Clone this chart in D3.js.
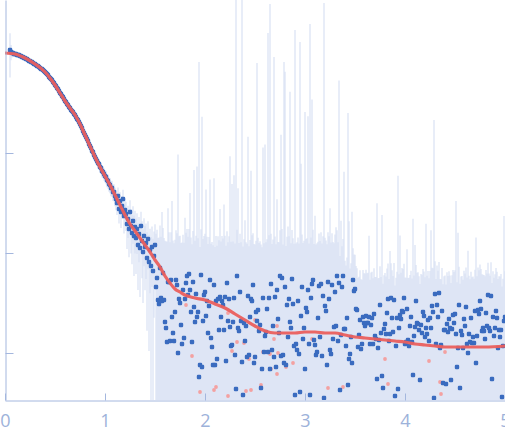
<!DOCTYPE html>
<html><head><meta charset="utf-8">
<script src="https://cdn.jsdelivr.net/npm/d3@7"></script>
<style>html,body{margin:0;padding:0;background:#fff;}svg{display:block;}</style>
</head><body>
<svg id="c" width="505" height="438"></svg>
<script>
// scattering vector q (nm^-1)
const q = [
0.05,0.06,0.07,0.08,0.09,0.10,
0.11,0.12,0.13,0.14,0.15,0.16,0.17,0.18,0.19,0.20,
0.21,0.22,0.23,0.24,0.25,0.26,0.27,0.28,0.29,0.30,
0.31,0.32,0.33,0.34,0.35,0.36,0.37,0.38,0.39,0.40,
0.41,0.42,0.43,0.44,0.45,0.46,0.47,0.48,0.49,0.50,
0.51,0.52,0.53,0.54,0.55,0.56,0.57,0.58,0.59,0.60,
0.61,0.62,0.63,0.64,0.65,0.66,0.67,0.68,0.69,0.70,
0.71,0.72,0.73,0.74,0.75,0.76,0.77,0.78,0.79,0.80,
0.81,0.82,0.83,0.84,0.85,0.86,0.87,0.88,0.89,0.90,
0.91,0.92,0.93,0.94,0.95,0.96,0.97,0.98,0.99,1.00,
1.01,1.02,1.03,1.04,1.05,1.06,1.07,1.08,1.09,1.10,
1.11,1.12,1.13,1.14,1.15,1.16,1.17,1.18,1.19,1.20,
1.21,1.22,1.23,1.24,1.25,1.26,1.27,1.28,1.29,1.30,
1.31,1.32,1.33,1.34,1.35,1.36,1.37,1.38,1.39,1.40,
1.41,1.42,1.43,1.44,1.45,1.46,1.47,1.48,1.49,1.50,
1.51,1.52,1.53,1.54,1.55,1.56,1.57,1.58,1.59,1.60,
1.61,1.62,1.63,1.64,1.65,1.66,1.67,1.68,1.69,1.70,
1.71,1.72,1.73,1.74,1.75,1.76,1.77,1.78,1.79,1.80,
1.81,1.82,1.83,1.84,1.85,1.86,1.87,1.88,1.89,1.90,
1.91,1.92,1.93,1.94,1.95,1.96,1.97,1.98,1.99,2.00,
2.01,2.02,2.03,2.04,2.05,2.06,2.07,2.08,2.09,2.10,
2.11,2.12,2.13,2.14,2.15,2.16,2.17,2.18,2.19,2.20,
2.21,2.22,2.23,2.24,2.25,2.26,2.27,2.28,2.29,2.30,
2.31,2.32,2.33,2.34,2.35,2.36,2.37,2.38,2.39,2.40,
2.41,2.42,2.43,2.44,2.45,2.46,2.47,2.48,2.49,2.50,
2.51,2.52,2.53,2.54,2.55,2.56,2.57,2.58,2.59,2.60,
2.61,2.62,2.63,2.64,2.65,2.66,2.67,2.68,2.69,2.70,
2.71,2.72,2.73,2.74,2.75,2.76,2.77,2.78,2.79,2.80,
2.81,2.82,2.83,2.84,2.85,2.86,2.87,2.88,2.89,2.90,
2.91,2.92,2.93,2.94,2.95,2.96,2.97,2.98,2.99,3.00,
3.01,3.02,3.03,3.04,3.05,3.06,3.07,3.08,3.09,3.10,
3.11,3.12,3.13,3.14,3.15,3.16,3.17,3.18,3.19,3.20,
3.21,3.22,3.23,3.24,3.25,3.26,3.27,3.28,3.29,3.30,
3.31,3.32,3.33,3.34,3.35,3.36,3.37,3.38,3.39,3.40,
3.41,3.42,3.43,3.44,3.45,3.46,3.47,3.48,3.49,3.50,
3.51,3.52,3.53,3.54,3.55,3.56,3.57,3.58,3.59,3.60,
3.61,3.62,3.63,3.64,3.65,3.66,3.67,3.68,3.69,3.70,
3.71,3.72,3.73,3.74,3.75,3.76,3.77,3.78,3.79,3.80,
3.81,3.82,3.83,3.84,3.85,3.86,3.87,3.88,3.89,3.90,
3.91,3.92,3.93,3.94,3.95,3.96,3.97,3.98,3.99,4.00,
4.01,4.02,4.03,4.04,4.05,4.06,4.07,4.08,4.09,4.10,
4.11,4.12,4.13,4.14,4.15,4.16,4.17,4.18,4.19,4.20,
4.21,4.22,4.23,4.24,4.25,4.26,4.27,4.28,4.29,4.30,
4.31,4.32,4.33,4.34,4.35,4.36,4.37,4.38,4.39,4.40,
4.41,4.42,4.43,4.44,4.45,4.46,4.47,4.48,4.49,4.50,
4.51,4.52,4.53,4.54,4.55,4.56,4.57,4.58,4.59,4.60,
4.61,4.62,4.63,4.64,4.65,4.66,4.67,4.68,4.69,4.70,
4.71,4.72,4.73,4.74,4.75,4.76,4.77,4.78,4.79,4.80,
4.81,4.82,4.83,4.84,4.85,4.86,4.87,4.88,4.89,4.90,
4.91,4.92,4.93,4.94,4.95,4.96,4.97,4.98,4.99,5.00];

// log10 of measured intensity
const logI = [
0.03,0.01,0.00,0.00,-0.01,-0.01,
-0.01,-0.02,-0.02,-0.02,-0.03,-0.03,-0.04,-0.04,-0.05,-0.05,
-0.06,-0.06,-0.07,-0.08,-0.08,-0.09,-0.09,-0.10,-0.11,-0.11,
-0.12,-0.13,-0.13,-0.14,-0.15,-0.16,-0.16,-0.17,-0.18,-0.19,
-0.20,-0.21,-0.22,-0.24,-0.25,-0.26,-0.27,-0.29,-0.30,-0.32,
-0.33,-0.35,-0.36,-0.38,-0.40,-0.41,-0.43,-0.44,-0.46,-0.48,
-0.49,-0.51,-0.52,-0.54,-0.55,-0.57,-0.58,-0.59,-0.61,-0.62,
-0.64,-0.66,-0.67,-0.69,-0.71,-0.73,-0.75,-0.78,-0.80,-0.82,
-0.84,-0.86,-0.88,-0.91,-0.93,-0.95,-0.98,-0.99,-1.02,-1.04,
-1.06,-1.08,-1.10,-1.11,-1.14,-1.15,-1.18,-1.19,-1.21,-1.23,
-1.24,-1.27,-1.28,-1.31,-1.32,-1.35,-1.35,-1.39,-1.39,-1.43,
-1.46,-1.50,-1.43,-1.56,-1.48,-1.59,-1.53,-1.46,-1.63,-1.57,
-1.61,-1.71,-1.66,-1.76,-1.59,-1.73,-1.80,-1.68,-1.83,-1.74,
-1.85,-1.76,-1.92,-1.81,-1.95,-1.73,-1.88,-1.99,-1.83,-1.94,
-1.90,-2.05,-1.86,-2.09,-1.97,-2.13,-1.94,-2.18,-2.03,-1.92,
-2.34,-2.25,-2.47,-2.51,-2.15,-2.45,-2.48,-2.20,-2.47,-2.69,
-2.75,-2.89,-2.29,-2.29,-2.88,-2.27,-2.64,-2.80,-2.88,-2.59,
-2.27,-2.32,-3.00,-2.46,-2.50,-2.72,-2.91,-2.37,-2.85,-2.46,
-2.30,-2.23,-2.42,-2.21,-2.37,-2.59,-2.89,-2.29,-2.54,-2.69,
-2.41,-2.64,-2.59,-3.24,-3.12,-2.22,-3.14,-2.68,-2.42,-2.39,
-2.63,-2.48,-2.80,-2.53,-2.27,-2.85,-2.94,-3.12,-2.32,-3.12,
-2.48,-3.06,-2.46,-2.77,-2.44,-2.64,-2.48,-2.52,-2.77,-2.44,
-3.08,-2.30,-2.68,-2.46,-2.74,-2.93,-2.92,-2.69,-2.45,-3.02,
-3.36,-2.23,-2.75,-2.78,-2.39,-2.68,-3.09,-3.42,-2.70,-2.88,
-2.73,-3.04,-2.43,-3.02,-2.64,-2.46,-2.48,-2.32,-3.10,-3.04,
-2.59,-2.68,-2.57,-2.78,-2.72,-3.35,-3.16,-2.45,-2.99,-2.83,
-2.79,-2.56,-2.99,-2.45,-3.16,-2.31,-2.97,-2.73,-3.04,-2.44,
-3.14,-2.37,-2.66,-2.80,-2.23,-3.03,-2.25,-3.02,-3.10,-2.34,
-3.12,-2.52,-2.84,-2.46,-2.69,-2.75,-2.26,-2.51,-2.93,-3.42,
-2.91,-2.97,-2.48,-3.01,-3.39,-2.63,-2.34,-2.86,-2.75,-3.16,
-2.55,-2.59,-2.37,-2.91,-3.42,-2.45,-2.31,-2.27,-2.87,-2.92,
-3.02,-2.99,-2.65,-2.33,-2.84,-2.31,-3.03,-2.43,-3.45,-2.53,
-2.58,-3.12,-2.29,-2.46,-2.97,-3.01,-2.32,-2.86,-2.74,-2.39,
-2.73,-2.23,-2.88,-2.30,-3.37,-2.82,-2.34,-2.23,-2.76,-2.76,
-2.93,-2.65,-3.32,-3.06,-3.01,-2.84,-3.10,-2.27,-2.38,-2.36,
-2.56,-2.57,-2.94,-2.82,-2.67,-2.96,-2.91,-2.64,-2.70,-2.73,
-2.63,-2.70,-2.70,-2.64,-2.91,-2.72,-2.65,-2.91,-2.61,-2.83,
-2.86,-3.26,-2.95,-2.87,-2.52,-2.80,-3.23,-3.35,-2.76,-2.71,
-2.81,-2.60,-2.46,-2.88,-2.81,-2.45,-2.65,-2.79,-2.47,-3.43,
-2.93,-2.65,-3.36,-2.75,-2.62,-2.66,-2.58,-2.59,-2.45,-2.91,
-2.89,-2.56,-2.87,-2.93,-2.73,-2.64,-2.89,-3.22,-2.83,-2.74,
-2.48,-2.70,-2.71,-2.77,-3.27,-2.72,-2.80,-2.59,-2.63,-2.84,
-2.75,-2.81,-2.67,-2.88,-2.65,-2.75,-2.53,-2.59,-3.45,-2.41,
-2.91,-2.52,-2.64,-2.40,-2.95,-2.92,-2.58,-3.30,-2.77,-2.77,
-3.31,-2.71,-2.79,-2.66,-2.75,-3.27,-2.76,-2.62,-2.70,-2.61,
-2.81,-3.14,-2.95,-2.52,-3.35,-2.78,-2.82,-2.95,-2.66,-2.73,
-2.54,-2.91,-3.00,-2.81,-2.89,-2.65,-2.90,-2.84,-2.90,-2.58,
-3.10,-2.83,-2.57,-2.61,-2.48,-2.56,-2.78,-2.75,-2.78,-2.86,
-2.60,-2.73,-2.42,-2.75,-2.78,-2.43,-3.26,-2.64,-2.83,-2.75,
-2.58,-2.65,-2.95,-2.77,-2.84,-2.77,-3.44,-2.93,-2.68,-2.64];

// log10 of the intensity error (sigma)
const logErr = [
-0.30,-0.75,-1.00,-1.15,-1.25,-1.35,
-1.45,-1.50,-1.48,-1.55,-1.52,-1.58,-1.55,-1.60,-1.57,-1.60,
-1.62,-1.60,-1.65,-1.62,-1.66,-1.64,-1.68,-1.65,-1.70,-1.67,
-1.70,-1.72,-1.69,-1.73,-1.71,-1.75,-1.72,-1.76,-1.74,-1.77,
-1.76,-1.78,-1.75,-1.80,-1.77,-1.79,-1.81,-1.78,-1.82,-1.80,
-1.83,-1.81,-1.84,-1.82,-1.86,-1.83,-1.85,-1.87,-1.84,-1.88,
-1.86,-1.89,-1.87,-1.90,-1.88,-1.91,-1.89,-1.92,-1.90,-1.93,
-1.91,-1.94,-1.92,-1.95,-1.93,-1.96,-1.94,-1.97,-1.95,-1.98,
-1.96,-1.99,-1.97,-2.00,-1.98,-2.01,-1.99,-2.02,-2.00,-2.03,
-2.01,-2.04,-2.02,-2.05,-2.03,-2.06,-2.04,-2.07,-2.05,-2.08,
-2.06,-2.09,-2.07,-2.10,-2.08,-2.11,-2.09,-2.12,-2.10,-2.11,
-2.10,-2.12,-2.09,-2.11,-2.13,-2.10,-2.12,-2.08,-2.11,-2.09,
-2.10,-2.07,-2.11,-2.08,-2.10,-2.06,-2.09,-2.07,-2.05,-2.08,
-2.10,-2.12,-2.11,-2.13,-2.12,-2.14,-2.12,-2.15,-2.13,-2.14,
-2.15,-2.14,-2.16,-2.15,-2.17,-2.15,-2.16,-2.14,-2.15,-2.13,
-1.96,-1.94,-1.97,-1.95,-1.93,-1.96,-1.65,-1.94,-1.97,-1.95,
-1.95,-1.93,-1.64,-1.96,-1.94,-1.97,-1.51,-1.93,-1.95,-1.96,
-1.94,-1.96,-1.02,-1.95,-1.93,-1.97,-1.94,-1.96,-1.95,-1.72,
-1.96,-1.94,-1.97,-1.95,-1.45,-1.93,-1.96,-1.94,-1.19,-1.95,
-1.96,-1.15,-1.94,-0.09,-1.97,-1.95,-0.64,-1.93,-1.96,-1.94,
-1.39,-1.95,-1.97,-1.94,-1.31,-1.96,-1.93,-1.95,-1.29,-1.97,
-1.94,-1.96,-1.95,-1.93,-1.62,-1.97,-1.94,-1.96,-1.54,-1.95,
-1.96,-1.94,-1.97,-1.95,-1.04,-1.93,-1.32,-1.96,-1.25,-1.94,
0.60,-1.95,-1.37,-1.96,-1.94,-1.97,0.60,-1.95,-1.93,-1.70,
-1.96,-1.94,-0.85,-1.97,-1.95,-1.20,-1.93,-1.96,-1.94,-1.95,
-1.97,-0.10,-1.94,-1.96,-1.95,-1.93,-1.97,-0.96,-1.94,-0.92,
-1.95,-1.96,0.20,-1.94,0.49,-1.97,-1.95,-1.93,-0.04,-1.96,
-1.94,-1.52,-1.97,-1.95,-1.96,-0.82,-1.93,-1.95,-0.09,-0.19,
-1.96,-1.94,-1.77,-1.95,-0.39,-1.97,-1.94,-1.96,-1.95,0.23,
-1.95,-1.93,-1.96,-1.94,0.11,-1.12,-1.97,-1.95,-1.94,-0.59,
-1.96,-1.94,-0.64,-1.95,0.29,-1.97,-0.47,-1.93,-1.96,-1.65,
-1.95,-1.94,-1.97,-1.96,-1.93,-1.95,-1.94,-1.96,0.50,-1.95,
-1.97,-1.94,-1.96,-1.95,-1.57,-1.93,-1.96,-1.94,-1.97,-1.95,
-1.79,-1.96,-1.94,-0.28,-2.05,-1.71,-2.15,-2.10,-1.20,-2.18,
-2.20,-2.17,-0.60,-1.70,-2.22,-2.19,-1.60,-2.24,-2.26,-2.28,
-2.33,-2.36,-2.35,-2.37,-2.34,-2.36,-2.38,-2.35,-2.37,-2.36,
-2.35,-2.37,-2.36,-1.90,-2.38,-2.35,-2.37,-2.36,-2.34,-2.37,
-2.36,-1.51,-2.35,-2.37,-2.36,-2.38,-1.63,-2.35,-2.37,-2.36,
-2.37,-2.35,-2.36,-2.38,-2.05,-2.36,-2.35,-2.37,-2.34,-2.36,
-2.35,-2.37,-1.23,-2.36,-1.90,-2.38,-2.35,-2.36,-2.37,-2.35,
-2.36,-2.09,-2.37,-2.35,-2.38,-2.36,-2.37,-1.67,-2.35,-1.99,
-2.37,-2.36,-2.35,-2.38,-2.36,-2.37,-2.35,-2.36,-2.38,-2.37,
-1.75,-2.36,-2.35,-2.37,-2.36,-1.82,-2.38,-2.35,-0.67,-2.36,
-2.37,-2.35,-2.36,-2.38,-2.36,-2.37,-2.35,-2.36,-2.38,-2.37,
-2.36,-2.35,-2.37,-2.36,-2.38,-2.35,-2.37,-2.36,-2.35,-2.37,
-1.50,-2.36,-1.83,-2.37,-2.35,-2.38,-2.36,-2.37,-2.35,-2.36,
-2.37,-2.35,-2.02,-2.36,-2.38,-2.37,-2.35,-2.36,-2.37,-2.38,
-1.87,-2.36,-2.35,-2.37,-2.36,-2.38,-2.35,-2.37,-2.36,-2.35,
-2.37,-2.36,-2.38,-2.35,-2.37,-2.36,-2.35,-2.37,-2.38,-2.36,
-2.35,-2.37,-2.36,-2.38,-2.36,-2.35,-2.37,-2.36,-1.67,-2.37];

// points with negative intensity, shown as |I|
const negQ = [1.81,1.87,1.95,2.09,2.11,2.23,2.23,2.27,2.32,2.39,2.41,2.44,2.46,2.50,2.56,2.58,2.65,2.66,2.69,2.72,2.73,2.72,2.81,2.88,3.07,3.23,3.38,3.80,3.83,4.24,4.35,4.36,4.40];
const negLogI = [-2.52,-3.03,-3.39,-3.37,-3.34,-2.60,-3.43,-2.98,-2.89,-2.90,-3.38,-3.06,-3.37,-2.67,-3.32,-2.99,-3.01,-3.16,-2.86,-2.73,-3.00,-3.21,-3.14,-3.10,-2.86,-3.35,-3.34,-3.06,-3.31,-3.08,-3.29,-3.41,-2.99];

// model fit
const fitQ = [0.00,0.10,0.20,0.30,0.40,0.45,0.50,0.55,0.60,0.65,0.70,0.75,0.80,0.85,0.90,0.95,1.00,1.05,1.10,1.15,1.20,1.25,1.30,1.35,1.40,1.45,1.50,1.55,1.60,1.65,1.70,1.75,1.80,1.90,2.00,2.10,2.20,2.30,2.40,2.50,2.60,2.70,2.80,2.90,3.00,3.10,3.20,3.30,3.40,3.50,3.60,3.70,3.80,3.90,4.00,4.10,4.20,4.30,4.40,4.60,4.80,5.00];
const fitLogI = [0.00,-0.01,-0.05,-0.11,-0.19,-0.25,-0.32,-0.40,-0.48,-0.55,-0.62,-0.71,-0.82,-0.93,-1.04,-1.14,-1.23,-1.32,-1.42,-1.52,-1.62,-1.71,-1.78,-1.85,-1.92,-1.99,-2.07,-2.14,-2.23,-2.30,-2.36,-2.39,-2.42,-2.45,-2.47,-2.51,-2.55,-2.61,-2.67,-2.73,-2.78,-2.80,-2.80,-2.80,-2.79,-2.79,-2.80,-2.80,-2.82,-2.84,-2.85,-2.86,-2.87,-2.88,-2.89,-2.91,-2.92,-2.93,-2.94,-2.94,-2.94,-2.93];

const xTicks = [0,1,2,3,4,5];
const yTicks = [0.001,0.01,0.1];

const svg = d3.select('#c');
const x = d3.scaleLinear().domain([0,5]).range([5,505]);
const y = d3.scaleLog().domain([Math.pow(10,-3.47), Math.pow(10,0.53)]).range([400,0]);

svg.append('defs').append('clipPath').attr('id','clip')
  .append('rect').attr('x',5).attr('y',0).attr('width',500).attr('height',400);

const pts = q.map((v,i)=>({q:v, I:Math.pow(10,logI[i]), s:Math.pow(10,logErr[i])}));
const neg = negQ.map((v,i)=>({q:v, I:Math.pow(10,negLogI[i])}));
const fit = fitQ.map((v,i)=>({q:v, I:Math.pow(10,fitLogI[i])}));

const plot = svg.append('g').attr('clip-path','url(#clip)');

plot.append('g').selectAll('line').data(pts).join('line')
  .attr('x1',d=>x(d.q)).attr('x2',d=>x(d.q))
  .attr('y1',d=> d.I-d.s>0 ? Math.min(y(d.I-d.s),402) : 402)
  .attr('y2',d=>y(d.I+d.s))
  .attr('stroke','#d5dff2').attr('stroke-width',1.1);

plot.append('g').selectAll('circle').data(neg).join('circle')
  .attr('cx',d=>x(d.q)).attr('cy',d=>y(d.I)).attr('r',1.9)
  .attr('fill','#f3a1a1');

plot.append('g').selectAll('rect').data(pts).join('rect')
  .attr('x',d=>x(d.q)-2.2).attr('y',d=>y(d.I)-2.2)
  .attr('width',4.4).attr('height',4.4).attr('rx',1.2)
  .attr('fill','#3a6bbf');

plot.append('path').datum(fit)
  .attr('d', d3.line().x(d=>x(d.q)).y(d=>y(d.I)).curve(d3.curveMonotoneX))
  .attr('fill','none').attr('stroke','#ea5f5d').attr('stroke-width',3.2)
  .attr('stroke-linecap','round').attr('stroke-opacity',0.95);

const axisColor = '#a4b7de';
const xa = svg.append('g').attr('transform','translate(0,400.5)')
  .call(d3.axisBottom(x).tickValues(xTicks).tickSize(-7).tickSizeOuter(0).tickPadding(14).tickFormat(d3.format('d')));
const ya = svg.append('g').attr('transform','translate(5.5,0)')
  .call(d3.axisLeft(y).tickValues(yTicks).tickSize(-8).tickSizeOuter(0).tickFormat(''));
[xa,ya].forEach(a=>{
  a.select('.domain').attr('stroke',axisColor);
  a.selectAll('.tick line').attr('stroke',axisColor);
  a.selectAll('.tick text').attr('fill','#9db2da').style('font-family','"Open Sans", sans-serif').style('font-size','18px');
});
</script>
</body></html>
